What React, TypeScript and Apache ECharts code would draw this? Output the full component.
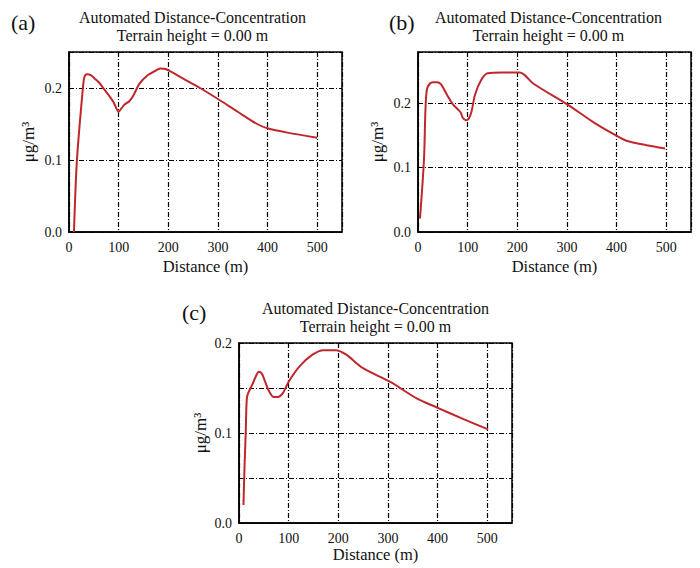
import React, { useEffect, useRef } from "react";
import * as echarts from "echarts";

const panelLabels = ["(a)", "(b)", "(c)"];
const titleText = "Automated Distance-Concentration\nTerrain height = 0.00 m";
const xName = "Distance (m)";
const yName = "μg/m³";

const distanceA = [10, 16, 28, 31, 36, 44, 52, 60, 68, 80, 90, 100, 106, 112, 122, 130, 142, 159, 172, 184, 196, 230, 264, 304, 340, 379, 400, 440, 500];
const concA = [0, 0.1, 0.2, 0.215, 0.219, 0.218, 0.213, 0.208, 0.201, 0.19, 0.18, 0.167, 0.172, 0.177, 0.182, 0.19, 0.206, 0.218, 0.223, 0.227, 0.226, 0.213, 0.2, 0.183, 0.167, 0.15, 0.144, 0.138, 0.131];

const distanceB = [4, 12, 15, 18, 24, 30, 38, 46, 58, 70, 80, 86, 90, 96, 102, 108, 115, 127, 140, 170, 205, 215, 232, 300, 353, 397, 420, 460, 498];
const concB = [0.021, 0.112, 0.19, 0.222, 0.231, 0.233, 0.233, 0.23, 0.214, 0.199, 0.191, 0.186, 0.178, 0.174, 0.176, 0.188, 0.214, 0.236, 0.247, 0.248, 0.248, 0.244, 0.231, 0.199, 0.171, 0.151, 0.142, 0.135, 0.13];

const distanceC = [9, 11, 13.5, 15, 17, 27, 34, 40, 46, 52, 60, 70, 78, 88, 100, 122, 148, 170, 195, 216, 250, 304, 358, 398, 450, 502];
const concC = [0.02, 0.06, 0.1, 0.13, 0.142, 0.154, 0.163, 0.168, 0.166, 0.158, 0.147, 0.14, 0.14, 0.144, 0.157, 0.174, 0.187, 0.192, 0.192, 0.187, 0.172, 0.157, 0.1385, 0.1285, 0.116, 0.104];

const xTicksMax = 550;
const xInterval = 100;
const yMaxes = [0.25, 0.28, 0.2];
const yIntervals = [0.1, 0.1, 0.05];

const FONT = "'Liberation Serif', 'Times New Roman', serif";

const grids = [
  { left: 69, top: 52, width: 273, height: 180 },
  { left: 418, top: 52, width: 273, height: 180 },
  { left: 239, top: 343, width: 273, height: 180 },
];

function pairs(xs: number[], ys: number[]) {
  return xs.map((x, i) => [x, ys[i]]);
}

export default function App() {
  const ref = useRef<HTMLDivElement>(null);
  useEffect(() => {
    if (!ref.current) return;
    const chart = echarts.init(ref.current, null, { renderer: "svg" });
    const dashDot = { color: "#000", width: 1.2, type: [5, 2, 1, 2] as number[] };
    const seriesData = [pairs(distanceA, concA), pairs(distanceB, concB), pairs(distanceC, concC)];
    const titles: any[] = [];
    grids.forEach((g, i) => {
      titles.push({
        text: titleText,
        left: g.left + g.width / 2 + (i === 0 ? -13 : i === 1 ? -6 : 0),
        top: g.top - 44,
        textAlign: "center",
        padding: 0,
        textStyle: { fontFamily: FONT, fontWeight: "normal", fontSize: 16, color: "#111", lineHeight: 18 },
      });
    });
    const labelPos = [
      { left: 11, top: 11 },
      { left: 389, top: 11 },
      { left: 182, top: 301 },
    ];
    panelLabels.forEach((t, i) => {
      titles.push({
        text: t,
        left: labelPos[i].left,
        top: labelPos[i].top,
        padding: 0,
        textStyle: { fontFamily: FONT, fontWeight: "normal", fontSize: 22, color: "#111" },
      });
    });
    const option: any = {
      animation: false,
      backgroundColor: "#fff",
      title: titles,
      grid: grids.map((g) => ({ ...g, show: true, borderColor: "#000", borderWidth: 1.5, backgroundColor: "transparent" })),
      xAxis: grids.map((g, i) => ({
        type: "value",
        gridIndex: i,
        min: 0,
        max: xTicksMax,
        interval: xInterval,
        name: xName,
        nameLocation: "middle",
        nameGap: i === 2 ? 23 : 26,
        nameTextStyle: { fontFamily: FONT, fontSize: 16.5, color: "#111" },
        axisLine: { show: true, lineStyle: { color: "#000", width: 1.5 } },
        axisTick: { show: false },
        axisLabel: { fontFamily: FONT, fontSize: 14, color: "#111", margin: 8, showMaxLabel: false },
        splitLine: { show: true, lineStyle: dashDot },
      })),
      yAxis: grids.map((g, i) => ({
        type: "value",
        gridIndex: i,
        min: 0,
        max: yMaxes[i],
        interval: yIntervals[i],
        name: yName,
        nameLocation: "middle",
        nameGap: i === 2 ? 30 : 32,
        nameTextStyle: { fontFamily: FONT, fontSize: 17, color: "#111" },
        axisLine: { show: true, lineStyle: { color: "#000", width: 1.5 } },
        axisTick: { show: false },
        axisLabel: {
          fontFamily: FONT,
          fontSize: 14,
          color: "#111",
          margin: 7,
          showMaxLabel: i === 2,
          formatter: (v: number) => (Math.abs(v * 10 - Math.round(v * 10)) < 1e-6 ? v.toFixed(1) : ""),
        },
        splitLine: { show: true, lineStyle: dashDot },
      })),
      series: seriesData.map((d, i) => ({
        type: "line",
        xAxisIndex: i,
        yAxisIndex: i,
        data: d,
        showSymbol: false,
        smooth: 0.3,
        lineStyle: { color: "#c0272d", width: 2 },
        z: 5,
      })),
    };
    chart.setOption(option);
    return () => chart.dispose();
  }, []);
  return <div ref={ref} style={{ position: "fixed", left: 0, top: 0, width: 700, height: 568 }} />;
}
